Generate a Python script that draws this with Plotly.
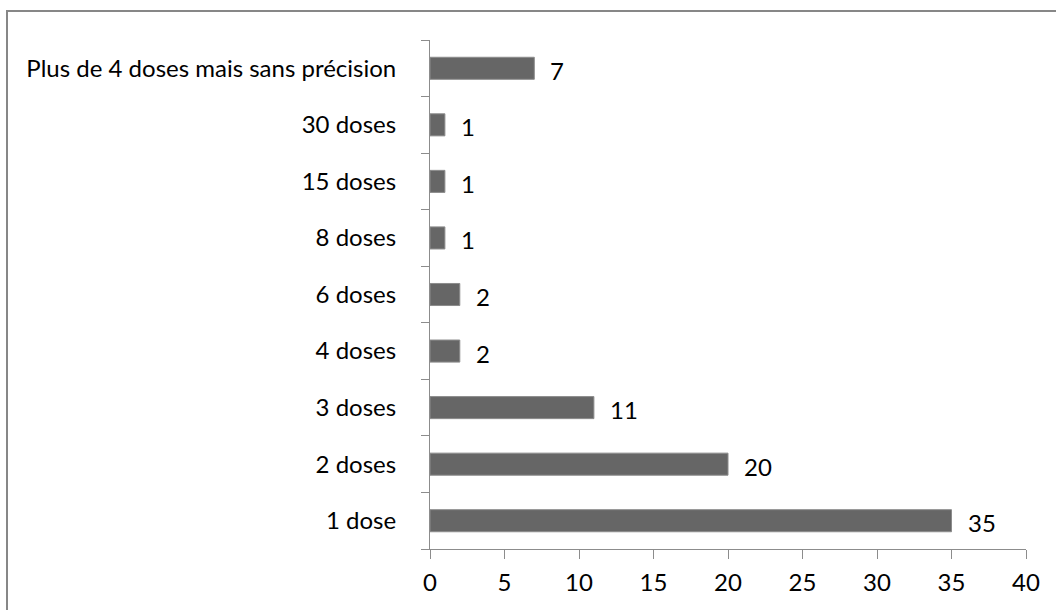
import plotly.graph_objects as go

categories = ["1 dose", "2 doses", "3 doses", "4 doses", "6 doses", "8 doses",
              "15 doses", "30 doses", "Plus de 4 doses mais sans précision"]
values = [35, 20, 11, 2, 2, 1, 1, 1, 7]
x_ticks = [0, 5, 10, 15, 20, 25, 30, 35, 40]

W, H = 1056, 610
L, R, T, B = 430, 30, 40, 61
pw, ph = W - L - R, H - T - B

FONT = "Lato, 'Open Sans', sans-serif"
FS = 24

fig = go.Figure()
fig.add_trace(go.Bar(
    x=values, y=categories, orientation="h",
    marker=dict(color="#666666", line=dict(color="#8c8c8c", width=1)),
    width=0.39, showlegend=False, hoverinfo="x+y",
))

for c, v in zip(categories, values):
    fig.add_annotation(x=v, y=c, text=str(v), showarrow=False,
                       xanchor="left", yanchor="middle", xshift=14, yshift=-2,
                       font=dict(family=FONT, size=FS, color="#000000"))

# outer chart border
fig.add_shape(type="rect", xref="paper", yref="paper",
              x0=(7 - L) / pw, x1=(W + 20 - L) / pw,
              y0=-(H + 20 - T - ph) / ph, y1=(H - B - 11) / ph,
              line=dict(color="#878787", width=2), fillcolor="rgba(0,0,0,0)",
              layer="below")

fig.update_layout(
    width=W, height=H,
    margin=dict(l=L, r=R, t=T, b=B, pad=0),
    paper_bgcolor="white", plot_bgcolor="white",
    font=dict(family=FONT, size=FS, color="#000000"),
    bargap=0.61,
    xaxis=dict(range=[0, 40], tickvals=x_ticks, ticks="outside", ticklen=9,
               tickcolor="#8c8c8c", tickwidth=1, showgrid=False, zeroline=False,
               showline=True, linecolor="#8c8c8c", linewidth=1,
               ticklabelstandoff=3, fixedrange=True),
    yaxis=dict(categoryorder="array", categoryarray=categories,
               ticks="outside", ticklen=8, tickson="boundaries",
               tickcolor="#8c8c8c", tickwidth=1, showgrid=False, zeroline=False,
               showline=True, linecolor="#8c8c8c", linewidth=1,
               ticklabelstandoff=28, fixedrange=True),
)

fig.write_html("out.html", config={"displayModeBar": False},
               post_script="document.body.style.margin='0';document.body.style.overflow='hidden';")
